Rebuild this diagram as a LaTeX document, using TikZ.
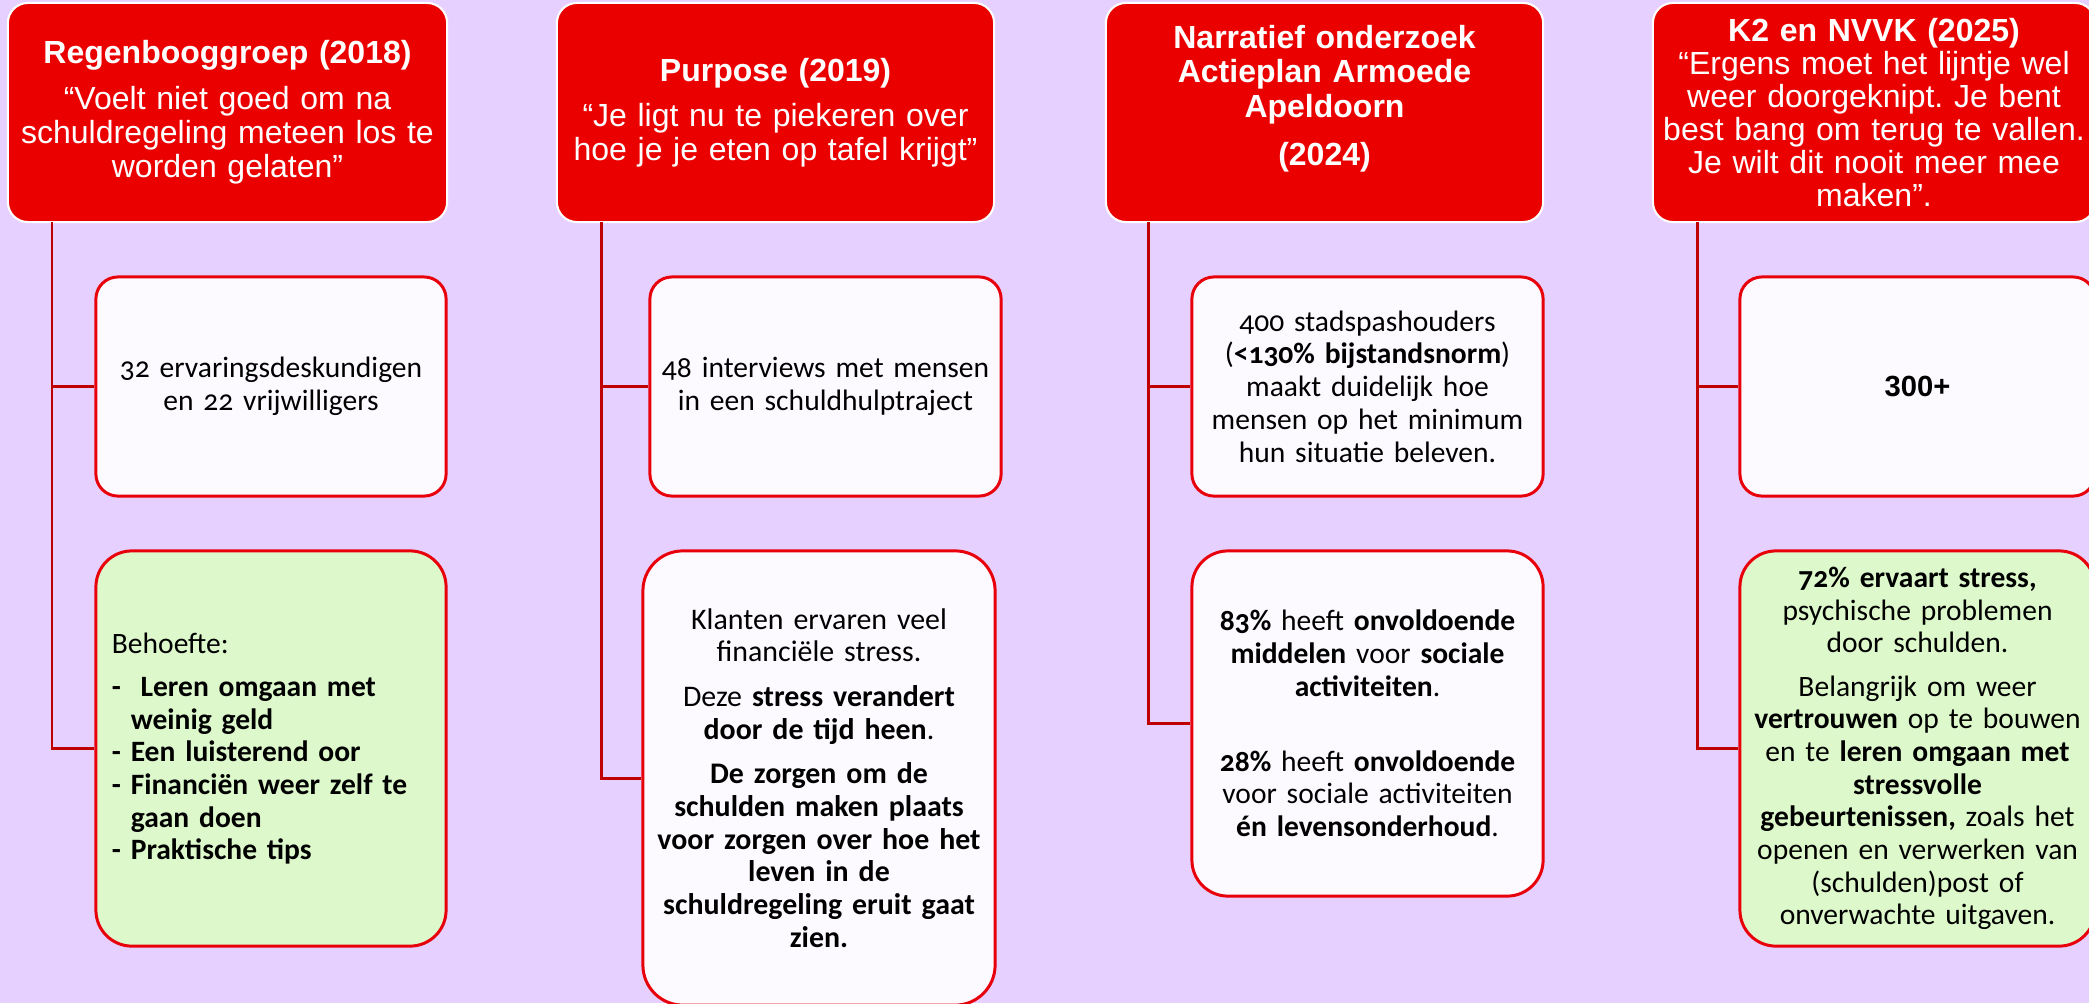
\documentclass[tikz,border=0pt]{standalone}
\usepackage{fontspec}
\setmainfont{Liberation Sans}
\newfontfamily\bodyfont[Numbers=OldStyle]{Carlito}
\newfontfamily\plainfont{Carlito}
\usepackage{tikz}
\usetikzlibrary{positioning}
\definecolor{lavendel}{HTML}{E6D0FF}
\definecolor{kopred}{HTML}{EB0000}
\definecolor{randred}{HTML}{E8000B}
\definecolor{lijnred}{HTML}{C00000}
\definecolor{wit}{HTML}{FCFAFF}
\definecolor{groen}{HTML}{DDF9CB}
\tikzset{hdr/.style={draw=white,line width=0.6pt,fill=kopred,text=white,
        rounded corners=0.2cm,align=center,inner sep=0pt,
        minimum height=2.19cm,font=\fontsize{9.1}{9.7}\selectfont},
        cbox/.style={draw=randred,line width=0.85pt,fill=wit,
        rounded corners=#1,align=center,inner xsep=0.1cm,inner ysep=0pt,
        text=black,font=\fontsize{8.4}{9.3}\selectfont\bodyfont},
        cbox/.default=0.22cm,
        gbox/.style={cbox=#1,fill=groen},
        gbox/.default=0.36cm}
\tikzstyle{conn} = [draw=lijnred,line width=0.85pt]
\frenchspacing
\begin{document}
\begin{tikzpicture}[x=0.01cm,y=-0.01cm]
\useasboundingbox (0,0) rectangle (2089,1003);
\fill[lavendel] (0,0) rectangle (2089,1003);

\node[hdr,minimum width=4.39cm,text width=4.3cm] (H1) at (227.5,112.5)
    {\textbf{Regenbooggroep (2018)}\\[3.2pt] “Voelt niet goed om na\\ schuldregeling meteen los te\\ worden gelaten”};
\node[hdr,minimum width=4.37cm,text width=4.25cm] (H2) at (775.5,112.5)
    {\textbf{Purpose (2019)}\\[3.2pt] “Je ligt nu te piekeren over\\ hoe je je eten op tafel krijgt”};
\node[hdr,minimum width=4.37cm,text width=4.25cm] (H3) at (1324.5,112.5)
    {\textbf{Narratief onderzoek\\ Actieplan Armoede\\ Apeldoorn\\[4pt] (2024)}\\ \mbox{}};
\node[hdr,minimum width=4.42cm,text width=4.36cm,font=\fontsize{9.1}{9.4}\selectfont] (H4) at (1874,112.5)
    {\textbf{K2 en NVVK (2025)}\\ “Ergens moet het lijntje wel\\ weer doorgeknipt. Je bent\\ best bang om terug te vallen.\\ Je wilt dit nooit meer mee\\ maken”.};

\node[cbox,minimum width=3.5cm,minimum height=2.19cm,text width=3.3cm] (U1) at (271,386.5)
    {32 ervaringsdeskundigen\\ en 22 vrijwilligers};
\node[gbox,minimum width=3.5cm,minimum height=3.95cm,text width=3.18cm,inner xsep=0.16cm,align=left] (L1) at (271,748.5)
    {Behoefte:\\[3pt]
     \textbf{-\ \ Leren omgaan met}\\
     \textbf{\phantom{-\ }weinig geld}\\
     \textbf{- Een luisterend oor}\\
     \textbf{- Financiën weer zelf te}\\
     \textbf{\phantom{-\ }gaan doen}\\
     \textbf{- Praktische tips}};

\node[cbox,minimum width=3.51cm,minimum height=2.19cm,text width=3.31cm] (U2) at (825.5,386.5)
    {48 interviews met mensen\\ in een schuldhulptraject};
\node[cbox=0.4cm,minimum width=3.52cm,minimum height=4.54cm,text width=3.32cm,font=\fontsize{8.5}{9.3}\selectfont\plainfont] (L2) at (819,778)
    {Klanten ervaren veel\\ financiële stress.\\[3.4pt]
     Deze \textbf{stress verandert\\ door de tijd heen}.\\[3.4pt]
     \textbf{De zorgen om de\\ schulden maken plaats\\ voor zorgen over hoe het\\ leven in de\\ schuldregeling eruit gaat\\ zien.}};

\node[cbox,minimum width=3.51cm,minimum height=2.19cm,text width=3.31cm] (U3) at (1367.5,386.5)
    {400 stadspashouders\\ (\textbf{<130\% bijstandsnorm})\\ maakt duidelijk hoe\\ mensen op het minimum\\ hun situatie beleven.};
\node[cbox=0.36cm,minimum width=3.51cm,minimum height=3.45cm,text width=3.31cm] (L3) at (1367.5,723.5)
    {\textbf{83\%} heeft \textbf{onvoldoende}\\ \textbf{middelen} voor \textbf{sociale}\\ \textbf{activiteiten}.\\[12pt]
     \textbf{28\%} heeft \textbf{onvoldoende}\\ voor sociale activiteiten\\ \textbf{én levensonderhoud}.};

\node[cbox,minimum width=3.55cm,minimum height=2.19cm,text width=3.35cm,font=\fontsize{8.3}{9.3}\selectfont\bfseries] (U4) at (1917.5,386.5)
    {300+};
\node[gbox,minimum width=3.55cm,minimum height=3.95cm,text width=3.35cm] (L4) at (1917.5,748.5)
    {\textbf{72\% ervaart stress,}\\ psychische problemen\\ door schulden.\\[3pt]
     Belangrijk om weer\\ \textbf{vertrouwen} op te bouwen\\ en te \textbf{leren omgaan met}\\ \textbf{stressvolle}\\
     \textbf{gebeurtenissen,} zoals het\\ openen en verwerken van\\ (schulden)post of\\ onverwachte uitgaven.};

\coordinate (S1) at (52,222);
\coordinate (S2) at (601,222);
\coordinate (S3) at (1148,222);
\coordinate (S4) at (1697,222);
\foreach \i in {1,2,3,4}{
    \draw[conn] (S\i) |- (L\i.west);
    \draw[conn] (S\i |- U\i.west) -- (U\i.west);
}
\end{tikzpicture}
\end{document}
